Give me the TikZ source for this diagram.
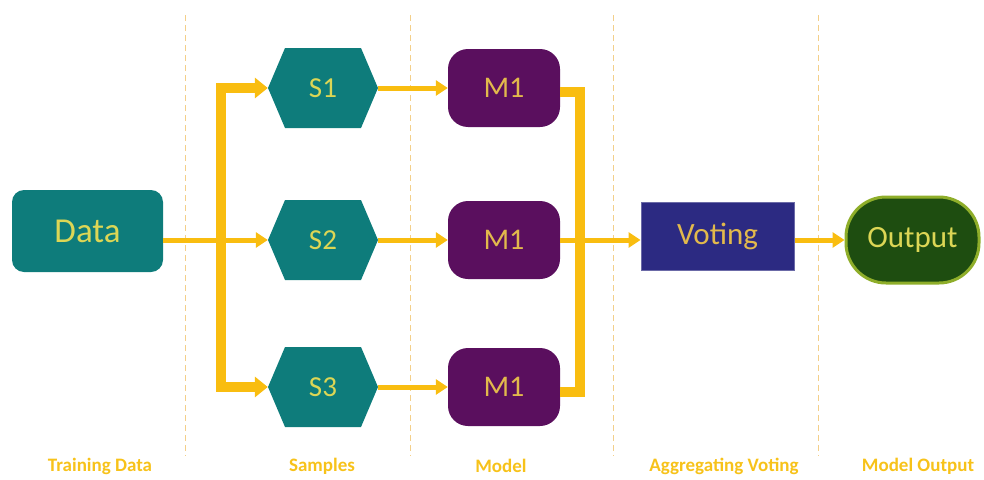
\documentclass[tikz,border=0pt]{standalone}
\usepackage{fontspec}
\setmainfont{Carlito}
\usetikzlibrary{arrows.meta}
\definecolor{tealbox}{HTML}{0E7C7B}
\definecolor{plum}{HTML}{5A0F5E}
\definecolor{indigo}{HTML}{2C2A82}
\definecolor{forest}{HTML}{1E4D10}
\definecolor{lime}{HTML}{8FAE2A}
\definecolor{gold}{HTML}{F9BD10}
\definecolor{labeltext}{HTML}{DCD655}
\definecolor{modeltext}{HTML}{E2B94C}
\definecolor{stage}{HTML}{F7C21A}
\definecolor{guide}{HTML}{F3CF8A}
\tikzset{
  flow/.style={gold, line width=5pt, -{Triangle[width=15pt,length=12pt]}},
  trunk/.style={gold, line width=10pt, line join=miter},
  fork/.style={gold, line width=10pt, line join=miter, -{Triangle[width=20pt,length=13pt]}},
  databox/.style={fill=tealbox, rounded corners=12pt, minimum width=151pt, minimum height=82pt, text=labeltext, font=\fontsize{35}{35}\selectfont},
  sample/.style={minimum width=110pt, minimum height=80pt, text=labeltext, font=\fontsize{29}{29}\selectfont},
  model/.style={fill=plum, rounded corners=20pt, minimum width=112pt, minimum height=78pt, text=modeltext, font=\fontsize{30}{30}\selectfont},
  votebox/.style={fill=indigo, draw=indigo!70!white, line width=1pt, minimum width=153pt, minimum height=68pt, text=modeltext, font=\fontsize{31}{31}\selectfont},
  outbox/.style={fill=forest, draw=lime, line width=3pt, rounded corners=40pt, minimum width=133pt, minimum height=86pt, text=labeltext, font=\fontsize{31}{31}\selectfont},
  stagelabel/.style={text=stage, font=\bfseries\fontsize{19}{19}\selectfont},
  divider/.style={guide, line width=1pt, dashed, dash pattern=on 6pt off 4pt}
}
\begin{document}
\begin{tikzpicture}[x=1pt, y=-1pt]
\useasboundingbox (0,0) rectangle (984,479);

% stage dividers
\foreach \gx in {185,410,613,818}
  \draw[divider] (\gx,15) -- (\gx,456);

% nodes
\node[databox] (data) at (87.5,231) {Data};
\foreach \i/\cy in {1/88,2/240,3/387}{
  \fill[tealbox] (268,\cy) -- (285,\cy-40) -- (361,\cy-40) -- (378,\cy) -- (361,\cy+40) -- (285,\cy+40) -- cycle;
  \node[sample] (s\i) at (323,\cy) {S\i};
  \node[model] (m\i) at (504,\cy) {M1};
}
\node[votebox] (vote) at (717.5,236) {Voting};
\node[outbox] (out) at (912.5,240) {Output};

% fan-out from the data to the samples
\coordinate (fmid) at (221,240);
\draw[fork] (fmid) -- (fmid |- s1.west) -- (s1.west);
\draw[fork] (fmid) -- (fmid |- s3.west) -- (s3.west);
\draw[flow] (data.east |- s2.west) -- (s2.west);

% samples to models
\foreach \i in {1,2,3}
  \draw[flow] (s\i.east) -- (m\i.west);

% models collected into the vote
\draw[trunk] (m1.east |- 0,92) -- (580,92) -- (580,392) -- (m3.east |- 0,392);
\draw[flow] (m2.east) -- (vote.west |- m2.east);
\draw[flow] (vote.east |- out.west) -- (out.west);

% stage captions
\node[stagelabel] (c1) at (100,466) {Training Data};
\node[stagelabel] (c2) at (322,466) {Samples};
\node[stagelabel] (c3) at (501,466) {Model};
\node[stagelabel] (c4) at (724,466) {Aggregating Voting};
\node[stagelabel] (c5) at (918,466) {Model Output};
\end{tikzpicture}
\end{document}
